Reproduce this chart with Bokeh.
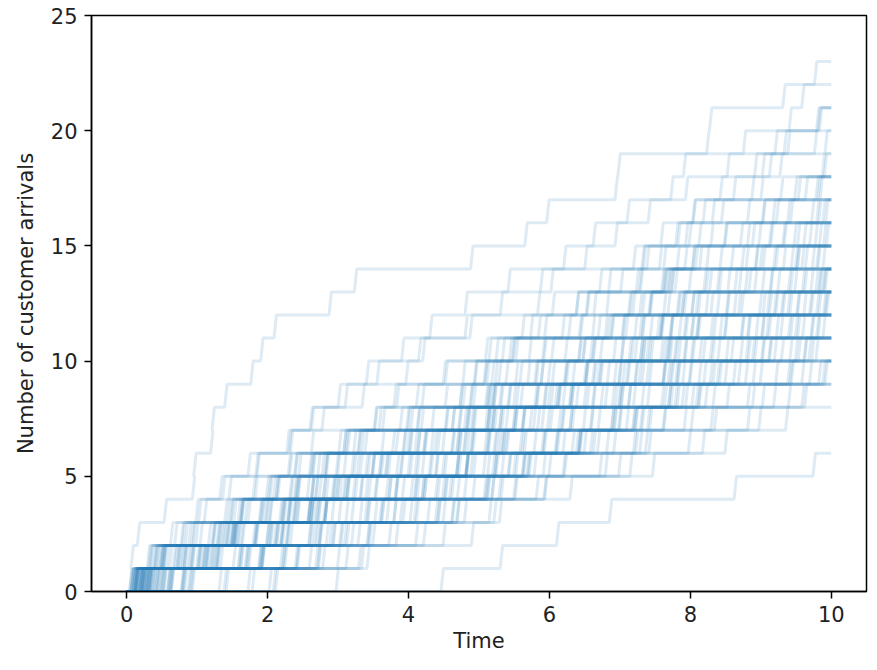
from bokeh.plotting import figure
from bokeh.models import FixedTicker, Range1d
from bokeh.embed import file_html
from bokeh.resources import INLINE

# Arrival times (read / estimated from the picture) for each simulated path
arrival_times = [
    [0.04, 0.06, 0.15, 0.53, 0.93, 0.95, 1.19, 1.21, 1.39, 1.76, 1.90, 2.09, 2.87, 3.23, 4.88, 5.65, 5.96, 6.93, 6.97, 8.23, 8.27, 9.31, 9.76],
    [0.12, 0.31, 0.68, 0.98, 1.32, 1.85, 2.30, 2.62, 3.10, 3.55, 4.20, 4.80, 5.30, 5.87, 6.50, 6.62, 7.40, 7.72, 7.90, 8.75, 9.40, 9.58],
    [0.12, 0.40, 0.62, 1.02, 1.45, 1.72, 2.32, 2.60, 3.00, 3.40, 3.90, 4.30, 4.80, 5.41, 6.20, 6.93, 7.10, 7.93, 8.52, 9.20, 9.81],
    [0.27, 0.52, 1.83, 2.41, 2.83, 3.31, 3.98, 4.12, 4.88, 5.18, 5.33, 5.84, 6.52, 7.01, 7.38, 7.58, 8.03, 8.42, 8.91, 9.33, 9.79],
    [0.48, 1.29, 1.53, 2.72, 2.93, 3.68, 4.41, 4.62, 5.09, 5.52, 5.90, 6.44, 6.81, 7.27, 7.56, 7.93, 8.18, 8.61, 9.02, 9.38, 9.83],
    [0.19, 0.33, 0.83, 1.52, 1.98, 2.44, 3.08, 3.63, 3.79, 4.52, 5.14, 5.61, 6.04, 6.71, 7.33, 7.79, 8.31, 9.00, 9.12, 9.91],
    [0.06, 0.71, 1.38, 2.21, 2.68, 2.81, 3.33, 3.99, 4.52, 4.93, 5.24, 6.18, 6.63, 7.29, 7.62, 7.98, 8.44, 8.87, 9.27, 9.76],
    [0.29, 0.78, 1.49, 1.62, 2.39, 2.63, 3.22, 3.88, 4.73, 5.07, 5.48, 5.93, 6.38, 6.84, 7.31, 7.82, 8.04, 9.28, 9.87],
    [0.21, 0.93, 2.04, 2.57, 3.12, 3.49, 4.23, 4.79, 5.21, 5.38, 6.22, 6.88, 7.12, 7.73, 7.81, 8.29, 9.03, 9.48, 9.90],
    [0.13, 0.47, 0.92, 1.10, 1.36, 1.83, 2.27, 2.77, 3.34, 3.96, 4.14, 4.87, 5.83, 6.02, 7.19, 8.12, 8.81, 9.53],
    [0.58, 1.07, 1.31, 2.03, 2.73, 3.67, 4.13, 4.82, 5.11, 5.58, 6.03, 6.69, 7.28, 7.69, 7.92, 8.71, 9.38, 9.63],
    [0.34, 1.58, 2.66, 2.91, 3.72, 4.38, 4.61, 5.17, 5.29, 5.81, 6.48, 7.04, 7.43, 7.59, 8.07, 8.49, 9.22, 9.78],
    [0.16, 0.39, 1.23, 1.88, 2.12, 2.97, 3.82, 4.03, 5.31, 5.79, 6.47, 6.61, 7.41, 7.64, 8.13, 8.48, 9.17, 9.84],
    [0.08, 1.71, 2.28, 2.81, 3.02, 4.31, 4.89, 5.62, 6.08, 6.33, 7.02, 7.53, 7.91, 8.22, 8.58, 8.97, 9.42, 9.81],
    [0.27, 0.81, 1.47, 1.63, 2.42, 2.64, 3.08, 3.52, 4.19, 4.77, 5.43, 6.87, 7.14, 7.61, 8.23, 8.88, 9.72],
    [0.23, 1.18, 1.62, 2.31, 2.68, 3.42, 4.48, 5.12, 5.53, 5.88, 6.42, 6.79, 7.32, 7.78, 8.03, 9.33, 9.88],
    [0.77, 1.03, 2.19, 2.58, 3.24, 3.89, 4.68, 5.19, 5.42, 6.21, 6.91, 7.08, 7.83, 8.27, 9.03, 9.14, 9.92],
    [0.91, 2.18, 2.88, 4.42, 4.61, 5.22, 5.34, 5.77, 6.53, 6.98, 7.44, 7.57, 8.02, 8.38, 8.93, 9.31, 9.82],
    [0.22, 0.29, 0.79, 1.47, 2.03, 2.38, 3.13, 3.58, 3.83, 4.49, 5.09, 5.73, 6.38, 7.23, 8.03, 8.81, 9.02],
    [0.14, 0.66, 1.42, 2.17, 2.79, 3.27, 4.02, 4.13, 4.92, 5.28, 5.47, 6.83, 7.42, 7.68, 8.73, 9.12, 9.79],
    [0.09, 0.57, 1.04, 1.68, 2.33, 2.77, 3.01, 4.33, 4.87, 5.23, 5.92, 7.03, 8.08, 8.63, 8.79, 9.52],
    [0.42, 1.87, 2.09, 2.61, 3.13, 3.48, 4.22, 4.83, 5.18, 6.22, 6.61, 7.31, 7.62, 8.19, 8.92, 9.69],
    [0.31, 0.49, 1.82, 2.37, 3.12, 4.88, 5.13, 5.62, 5.98, 6.72, 7.29, 7.71, 7.88, 8.69, 9.43, 9.61],
    [0.11, 1.14, 2.74, 3.69, 4.08, 4.81, 5.27, 5.83, 6.49, 6.63, 7.38, 7.58, 8.11, 8.53, 9.21, 9.83],
    [0.07, 0.52, 0.88, 1.43, 1.79, 2.29, 2.62, 4.18, 4.77, 5.08, 5.71, 6.42, 7.18, 7.73, 8.42, 9.47],
    [0.63, 1.09, 1.28, 1.97, 2.56, 3.22, 3.93, 4.71, 5.19, 6.24, 6.58, 7.32, 7.81, 7.98, 9.32, 9.89],
    [0.24, 0.86, 1.98, 3.31, 3.52, 4.68, 5.33, 5.51, 6.79, 7.42, 7.66, 7.84, 8.29, 9.02, 9.51, 9.93],
    [0.18, 0.44, 1.16, 1.93, 2.14, 2.83, 3.29, 3.97, 4.11, 4.94, 5.52, 6.27, 6.53, 7.63, 9.18, 9.77],
    [0.17, 1.23, 1.64, 2.28, 3.07, 3.61, 3.77, 4.53, 5.14, 5.69, 6.41, 7.21, 7.88, 9.42, 9.63],
    [0.58, 2.41, 2.73, 3.38, 4.52, 5.24, 5.37, 6.18, 6.93, 7.09, 7.77, 8.33, 8.98, 9.13, 9.88],
    [0.33, 0.76, 1.51, 1.58, 2.43, 2.59, 4.21, 4.84, 5.79, 6.04, 7.16, 7.57, 8.22, 8.91, 9.73],
    [0.53, 1.26, 1.52, 2.69, 2.94, 3.71, 4.37, 4.62, 5.21, 5.88, 7.02, 7.72, 8.68, 9.14, 9.81],
    [0.12, 0.73, 1.36, 2.23, 3.43, 4.68, 5.58, 6.13, 6.31, 7.04, 7.62, 8.09, 8.51, 9.24, 9.79],
    [1.31, 2.78, 3.04, 4.27, 4.91, 5.06, 5.64, 5.97, 6.73, 7.31, 7.67, 7.93, 8.72, 9.39, 9.58],
    [0.21, 0.34, 0.77, 1.48, 2.01, 2.39, 3.28, 3.51, 4.73, 5.11, 6.72, 7.28, 8.02, 8.83, 8.99],
    [0.09, 1.69, 2.26, 2.71, 3.72, 4.09, 4.79, 5.29, 5.82, 6.51, 6.62, 7.43, 7.68, 8.41, 9.52],
    [0.26, 0.51, 1.79, 2.36, 2.62, 3.19, 3.92, 4.72, 5.41, 6.92, 7.13, 8.11, 8.62, 8.78, 9.49],
    [0.61, 1.12, 1.33, 2.02, 2.98, 3.83, 4.01, 5.22, 6.19, 6.61, 7.33, 7.59, 9.21, 9.82],
    [0.29, 1.61, 3.09, 3.62, 3.81, 4.48, 5.12, 5.72, 6.38, 7.22, 7.79, 8.01, 9.29, 9.91],
    [0.19, 0.42, 1.21, 1.91, 2.08, 2.82, 4.13, 5.49, 6.31, 6.52, 7.71, 8.72, 9.09, 9.78],
    [0.82, 0.99, 2.21, 2.63, 4.22, 4.81, 5.08, 5.61, 6.02, 6.68, 7.32, 7.91, 9.38, 9.62],
    [2.11, 2.72, 3.41, 4.49, 5.31, 5.78, 6.49, 6.58, 7.39, 7.61, 8.13, 8.48, 9.19, 9.83],
    [0.04, 0.68, 1.41, 2.19, 2.79, 2.99, 4.32, 4.93, 5.81, 5.98, 7.21, 7.72, 8.38, 9.48],
    [0.23, 0.91, 2.03, 3.92, 4.38, 5.63, 6.09, 6.29, 7.01, 7.68, 7.91, 8.73, 9.41, 9.59],
    [0.11, 0.48, 0.94, 1.39, 1.82, 2.31, 3.11, 4.89, 5.13, 6.71, 7.29, 8.29, 8.52, 9.71],
    [0.87, 2.24, 2.58, 3.11, 3.53, 4.19, 4.78, 5.38, 6.89, 7.11, 7.83, 8.02, 9.31, 9.87],
    [0.38, 1.92, 2.13, 2.67, 3.68, 4.12, 4.83, 5.12, 6.13, 7.82, 8.28, 9.01, 9.12, 9.89],
    [0.49, 1.27, 1.54, 2.61, 4.19, 4.82, 5.23, 6.17, 6.62, 7.27, 8.31, 8.49, 9.69],
    [0.22, 1.19, 1.57, 2.29, 3.39, 4.71, 5.21, 5.89, 7.02, 7.61, 8.18, 8.93, 9.71],
    [0.06, 1.13, 3.02, 3.79, 4.03, 5.61, 6.08, 6.32, 6.98, 7.79, 8.03, 9.28, 9.93],
    [0.31, 0.82, 1.53, 1.61, 2.38, 2.71, 3.38, 4.52, 5.59, 7.38, 7.69, 8.42, 9.51],
    [0.41, 3.29, 3.49, 4.68, 5.18, 5.42, 6.19, 6.91, 7.12, 8.12, 8.58, 8.81, 9.52],
    [0.14, 1.73, 2.27, 2.57, 3.21, 3.88, 4.69, 5.48, 6.29, 6.51, 7.92, 9.39, 9.61],
    [0.28, 0.53, 1.81, 2.42, 2.91, 4.39, 4.62, 5.19, 5.93, 6.99, 7.58, 9.22, 9.79],
    [1.38, 1.91, 2.83, 4.08, 5.09, 5.71, 6.43, 7.19, 7.78, 8.32, 9.02, 9.11, 9.91],
    [0.79, 1.01, 2.19, 2.81, 3.32, 4.02, 4.09, 4.91, 5.92, 7.21, 8.01, 8.82, 9.03],
    [0.13, 0.61, 0.98, 1.72, 2.31, 2.61, 3.62, 5.32, 5.49, 6.82, 7.41, 8.09, 9.89],
    [0.62, 2.39, 3.12, 3.59, 3.82, 4.51, 5.11, 6.69, 7.31, 7.73, 8.71, 9.08, 9.82],
    [0.18, 0.92, 1.99, 3.01, 3.81, 3.99, 5.39, 6.88, 7.12, 8.28, 8.51, 9.72],
    [0.93, 2.59, 4.21, 4.79, 5.07, 5.68, 6.41, 7.22, 7.69, 8.68, 9.11, 9.81],
    [0.09, 0.72, 1.43, 2.21, 3.31, 3.48, 4.72, 5.29, 6.61, 7.71, 8.39, 9.52],
    [0.32, 1.59, 3.42, 4.69, 5.28, 5.52, 6.81, 7.39, 8.08, 8.61, 8.82, 9.49],
    [0.21, 0.38, 1.22, 1.89, 2.12, 3.08, 4.91, 5.51, 6.28, 6.49, 8.91, 9.42],
    [0.52, 1.33, 1.48, 2.81, 2.98, 4.29, 4.88, 5.13, 6.12, 7.62, 9.19, 9.79],
    [0.12, 1.08, 2.92, 4.41, 4.58, 5.22, 5.91, 6.98, 7.81, 7.99, 9.29, 9.88],
    [0.59, 1.11, 1.29, 1.98, 2.62, 3.59, 5.78, 6.01, 7.19, 7.89, 9.41, 9.59],
    [1.78, 2.68, 3.72, 4.11, 4.79, 5.12, 6.68, 7.29, 7.63, 8.19, 8.88, 9.71],
    [0.43, 1.88, 2.11, 2.79, 4.12, 5.62, 6.11, 6.29, 6.99, 7.98, 8.79, 9.02],
    [0.16, 1.68, 2.32, 3.88, 4.41, 5.19, 5.92, 6.99, 8.32, 8.49, 9.68],
    [0.89, 2.22, 2.73, 3.41, 4.48, 5.49, 6.32, 6.48, 7.59, 9.21, 9.78],
    [0.31, 0.49, 1.83, 2.38, 3.09, 4.92, 6.38, 6.92, 7.93, 9.38, 9.61],
    [0.38, 2.99, 3.82, 4.02, 5.81, 5.99, 7.22, 7.61, 8.21, 8.89, 9.72],
    [0.24, 0.89, 2.01, 2.61, 4.22, 4.81, 5.31, 6.59, 8.02, 8.78, 9.01],
    [0.63, 2.42, 2.59, 3.61, 5.18, 6.21, 6.62, 7.31, 7.72, 8.41, 9.49],
    [0.27, 0.81, 1.49, 1.62, 2.41, 3.39, 4.71, 5.09, 6.11, 7.81, 9.12],
    [1.41, 1.89, 2.62, 3.19, 3.91, 4.68, 5.61, 7.42, 7.69, 8.38, 9.53],
    [0.51, 1.28, 1.51, 3.79, 5.11, 5.69, 6.42, 7.18, 7.88, 9.43, 9.62],
    [0.33, 1.62, 3.28, 3.52, 4.69, 5.91, 7.19, 7.62, 9.18, 9.82],
    [0.78, 1.02, 2.18, 2.81, 4.09, 5.41, 6.91, 7.09, 8.11, 9.88],
    [2.08, 3.11, 4.89, 5.29, 5.51, 6.79, 7.41, 8.01, 8.81, 8.99],
    [0.19, 1.22, 1.58, 2.29, 2.63, 3.58, 5.89, 7.21, 8.88, 9.41],
    [1.72, 2.21, 2.69, 3.42, 4.51, 5.32, 6.58, 8.29, 8.52, 9.69],
    [0.47, 1.51, 2.93, 4.38, 5.12, 6.71, 7.28, 7.91, 9.39, 9.58],
    [0.36, 1.91, 2.12, 2.58, 4.19, 4.82, 6.41, 6.88, 8.12, 9.91],
    [2.02, 3.33, 4.49, 5.21, 5.93, 6.98, 7.97, 8.81, 9.02],
    [0.80, 1.92, 3.44, 4.61, 5.49, 6.19, 7.36, 8.34, 9.62],
    [0.44, 2.71, 3.19, 4.62, 5.92, 7.14, 8.17, 8.97, 9.58],
    [2.97, 3.41, 4.10, 5.14, 6.29, 7.46, 8.49, 9.35],
    [4.46, 5.30, 6.10, 6.85, 8.62, 9.74],
]
t_end = 10.0
x_ticks = [0, 2, 4, 6, 8, 10]
y_ticks = [0, 5, 10, 15, 20, 25]

rise = 0.035  # width of the time-grid step over which each jump is drawn
xs, ys = [], []
for times in arrival_times:
    x, y = [0.0], [0]
    for k, t in enumerate(times, 1):
        x += [t, t + rise]
        y += [k - 1, k]
    x.append(t_end)
    y.append(len(times))
    xs.append(x)
    ys.append(y)

p = figure(width=876, height=664, output_backend="svg", toolbar_location=None,
           x_range=Range1d(-0.5, 10.5), y_range=Range1d(0, 25),
           min_border_left=91, min_border_right=10, min_border_top=15, min_border_bottom=73)
p.multi_line(xs, ys, line_color="#1f77b4", line_alpha=0.15, line_width=3)

p.grid.visible = False
p.outline_line_color = "black"
p.outline_line_width = 1.5
p.background_fill_color = "white"
p.border_fill_color = "white"

for ax in (p.xaxis[0], p.yaxis[0]):
    ax.axis_line_color = "black"
    ax.axis_line_width = 1.5
    ax.major_tick_line_color = "black"
    ax.major_tick_line_width = 1.5
    ax.minor_tick_line_color = None
    ax.major_tick_out = 7
    ax.major_tick_in = 0
    ax.major_label_text_font = "DejaVu Sans"
    ax.major_label_text_font_size = "21px"
    ax.major_label_text_color = "#222222"
    ax.axis_label_text_font = "DejaVu Sans"
    ax.axis_label_text_font_size = "21px"
    ax.axis_label_text_font_style = "normal"
    ax.axis_label_text_color = "#222222"
    ax.major_label_standoff = 7

p.xaxis[0].ticker = FixedTicker(ticks=x_ticks)
p.yaxis[0].ticker = FixedTicker(ticks=y_ticks)
p.xaxis[0].axis_label = "Time"
p.yaxis[0].axis_label = "Number of customer arrivals"
p.xaxis[0].axis_label_standoff = 4
p.yaxis[0].axis_label_standoff = 10

open("out.html", "w").write(file_html(p, INLINE))
